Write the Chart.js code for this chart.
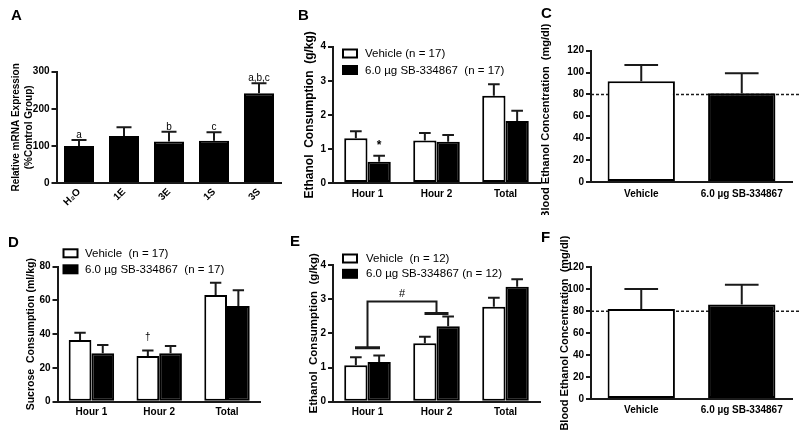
<!DOCTYPE html>
<html><head><meta charset="utf-8">
<script src="https://cdn.jsdelivr.net/npm/chart.js@4.4.0/dist/chart.umd.min.js"></script>
<style>
html,body{margin:0;padding:0;background:#fff;width:800px;height:436px;overflow:hidden;}
.p{position:absolute;left:0;top:0;width:800px;height:436px;overflow:hidden;}
canvas{display:block;}
</style></head><body>
<div class="p"><canvas id="cA" width="800" height="436"></canvas></div>
<div class="p"><canvas id="cB" width="800" height="436"></canvas></div>
<div class="p" style="height:215px"><canvas id="cC" width="800" height="436"></canvas></div>
<div class="p"><canvas id="cD" width="800" height="436"></canvas></div>
<div class="p"><canvas id="cE" width="800" height="436"></canvas></div>
<div class="p"><canvas id="cF" width="800" height="436"></canvas></div>
<script>
// ---------- DATA ----------
// Panel A
const mrnaCategories = ['H\u2082O', '1E', '3E', '1S', '3S'];
const mrnaMeans = [100, 127, 112, 114, 242];
const mrnaSem = [16, 23, 26, 23, 27];
const mrnaLetters = ['a', '', 'b', 'c', 'a,b,c'];
const mrnaTicks = [0, 100, 200, 300];

// Shared
const periodCategories = ['Hour 1', 'Hour 2', 'Total'];
const becCategories = ['Vehicle', '6.0 \u00b5g SB-334867'];
const ethanolTicks = [0, 1, 2, 3, 4];
const becTicks = [0, 20, 40, 60, 80, 100, 120];
const becThreshold = 80;

// Panel B
const ethB_vehicle = [1.31, 1.25, 2.56];
const ethB_vehicleSem = [0.21, 0.22, 0.34];
const ethB_sb = [0.62, 1.21, 1.82];
const ethB_sbSem = [0.18, 0.20, 0.30];
const ethB_sbMarks = ['*', '', ''];
const legendB = ['Vehicle (n = 17)', '6.0 \u00b5g SB-334867  (n = 17)'];

// Panel C
const becC = [92, 81];
const becCSem = [15, 18.3];

// Panel D
const sucVehicle = [36.6, 27.1, 63.2];
const sucVehicleSem = [4.3, 3.3, 7.3];
const sucVehicleMarks = ['', '\u2020', ''];
const sucSb = [28.7, 28.7, 56.7];
const sucSbSem = [4.9, 4.3, 9.3];
const sucTicks = [0, 20, 40, 60, 80];
const legendD = ['Vehicle  (n = 17)', '6.0 \u00b5g SB-334867  (n = 17)'];

// Panel E
const ethE_vehicle = [1.07, 1.71, 2.78];
const ethE_vehicleSem = [0.23, 0.19, 0.26];
const ethE_sb = [1.16, 2.21, 3.36];
const ethE_sbSem = [0.19, 0.28, 0.22];
const legendE = ['Vehicle  (n = 12)', '6.0 \u00b5g SB-334867 (n = 12)'];
// bracket: [left drop end, bar level, right drop end] in g/kg
const bracketE = [1.58, 2.93, 2.58];
const bracketELabel = '#';

// Panel F
const becF = [82, 86];
const becFSem = [18.2, 18];

// ---------- DRAWING ----------
const FAM = '"Liberation Sans", Arial, Helvetica, sans-serif';
const INK = '#1a1a1a';

const annot = {
  id: 'annot',
  beforeDatasetsDraw(chart, args, o) {
    const ctx = chart.ctx;
    if (o.refLine != null) {
      const y = chart.scales.y.getPixelForValue(o.refLine);
      ctx.save();
      ctx.setLineDash([3, 2]);
      ctx.lineWidth = 1.5;
      ctx.strokeStyle = INK;
      ctx.beginPath();
      ctx.moveTo(chart.chartArea.left, y);
      ctx.lineTo(chart.width, y);
      ctx.stroke();
      ctx.restore();
    }
  },
  afterDatasetsDraw(chart, args, o) {
    const ctx = chart.ctx, ys = chart.scales.y, xs = chart.scales.x;
    ctx.save();
    chart.data.datasets.forEach((ds, di) => {
      const meta = chart.getDatasetMeta(di);
      meta.data.forEach((bar, i) => {
        const v = ds.data[i];
        const e = ds.sem ? ds.sem[i] : 0;
        const x = bar.x;
        const yTop = ys.getPixelForValue(v);
        const yErr = ys.getPixelForValue(v + e);
        const half = bar.width / 4;
        ctx.strokeStyle = INK;
        ctx.lineWidth = 2;
        ctx.beginPath();
        ctx.moveTo(x, yTop);
        ctx.lineTo(x, yErr);
        ctx.moveTo(x - half, yErr);
        ctx.lineTo(x + half, yErr);
        ctx.stroke();
        if (ds.marks && ds.marks[i]) {
          ctx.fillStyle = '#000';
          ctx.font = o.markFont;
          ctx.textAlign = 'center';
          ctx.textBaseline = 'alphabetic';
          ctx.fillText(ds.marks[i], x, yErr - o.markOffset);
        }
      });
    });
    if (o.bracket) {
      const b = o.bracket;
      const x1 = xs.getPixelForValue(0), x2 = xs.getPixelForValue(1);
      const yL = ys.getPixelForValue(b[0]), yM = ys.getPixelForValue(b[1]), yR = ys.getPixelForValue(b[2]);
      ctx.strokeStyle = INK;
      ctx.lineWidth = 2;
      ctx.beginPath();
      ctx.moveTo(x1, yL); ctx.lineTo(x1, yM); ctx.lineTo(x2, yM); ctx.lineTo(x2, yR);
      ctx.stroke();
      ctx.lineWidth = 3;
      ctx.beginPath();
      ctx.moveTo(x1 - 12.5, yL); ctx.lineTo(x1 + 12.5, yL);
      ctx.moveTo(x2 - 12, yR); ctx.lineTo(x2 + 12, yR);
      ctx.stroke();
      ctx.fillStyle = '#000';
      ctx.font = '11px ' + FAM;
      ctx.textAlign = 'center';
      ctx.textBaseline = 'alphabetic';
      ctx.fillText(o.bracketLabel, (x1 + x2) / 2, yM - 4.5);
    }
    if (o.legend) {
      const L = o.legend;
      chart.data.datasets.forEach((ds, di) => {
        const cy = L.y + di * L.dy;
        ctx.fillStyle = ds.backgroundColor;
        ctx.fillRect(L.x, cy - 4, 14, 8);
        ctx.strokeStyle = '#000';
        ctx.lineWidth = 2;
        ctx.strokeRect(L.x, cy - 4, 14, 8);
        ctx.fillStyle = '#000';
        ctx.font = '11.5px ' + FAM;
        ctx.textAlign = 'left';
        ctx.textBaseline = 'middle';
        ctx.fillText(ds.label, L.tx, cy + 0.5);
      });
    }
    if (o.panel) {
      ctx.fillStyle = '#000';
      ctx.font = 'bold 15px ' + FAM;
      ctx.textAlign = 'left';
      ctx.textBaseline = 'alphabetic';
      ctx.fillText(o.panel[0], o.panel[1], o.panel[2]);
    }
    ctx.restore();
  }
};
Chart.register(annot);

function makeChart(id, c) {
  const g = c.geom; // L,R,T,B,yW,xH
  const ticks = c.yTicks;
  return new Chart(document.getElementById(id), {
    type: 'bar',
    data: { labels: c.labels, datasets: c.datasets },
    options: {
      responsive: false,
      animation: false,
      devicePixelRatio: 1,
      events: [],
      layout: { padding: { left: g.L - g.yW, right: 800 - g.R, top: g.T, bottom: 436 - g.B - g.xH } },
      plugins: {
        legend: { display: false },
        tooltip: { enabled: false },
        annot: c.annot
      },
      scales: {
        x: {
          type: 'category',
          offset: true,
          grid: { display: false, drawTicks: false },
          border: { display: true, color: INK, width: 2 },
          ticks: {
            color: '#000', autoSkip: false,
            font: { family: FAM, weight: 'bold', size: c.xFont || 10 },
            padding: c.xPad, minRotation: c.rot || 0, maxRotation: c.rot || 0
          },
          afterFit: s => { s.height = g.xH; }
        },
        y: {
          min: ticks[0], max: ticks[ticks.length - 1],
          grid: { display: true, drawOnChartArea: false, drawTicks: true, tickLength: 5, color: INK, lineWidth: 2 },
          border: { display: true, color: INK, width: 2 },
          ticks: { stepSize: ticks[1] - ticks[0], color: '#000', padding: 2,
                   font: { family: FAM, weight: 'bold', size: 10 } },
          title: { display: true, text: c.title, color: '#000', padding: 0,
                   font: { family: FAM, weight: 'bold', size: c.titleSize, lineHeight: c.titleLH || 1.2 } },
          afterFit: s => { s.width = g.yW; }
        }
      }
    }
  });
}

function ds(label, data, sem, fill, pct, marks) {
  return { label, data, sem, marks, backgroundColor: fill, borderColor: '#000', borderWidth: 2,
           borderSkipped: false, barPercentage: 1, categoryPercentage: pct };
}

// A
makeChart('cA', {
  labels: mrnaCategories,
  datasets: [ds('mRNA', mrnaMeans, mrnaSem, '#000', 0.667, mrnaLetters)],
  yTicks: mrnaTicks,
  title: ['Relative mRNA Expression', '(%Control Group)'], titleSize: 10, titleLH: 1.3,
  geom: { L: 56.5, R: 281.5, T: 71.7, B: 183, yW: 47.2, xH: 40 },
  xPad: 3, rot: 45,
  annot: { markFont: '10px ' + FAM, markOffset: 2, panel: ['A', 11, 20] }
});

// B
makeChart('cB', {
  labels: periodCategories,
  datasets: [ds(legendB[0], ethB_vehicle, ethB_vehicleSem, '#fff', 0.675),
             ds(legendB[1], ethB_sb, ethB_sbSem, '#000', 0.675, ethB_sbMarks)],
  yTicks: ethanolTicks,
  title: 'Ethanol  Consumption  (g/kg)', titleSize: 12,
  geom: { L: 333, R: 540, T: 46.7, B: 183, yW: 30.2, xH: 30 },
  xPad: 5,
  annot: { markFont: 'bold 12px ' + FAM, markOffset: 7,
           legend: { x: 343, y: 53.5, dy: 16.5, tx: 365 }, panel: ['B', 298, 19.5] }
});

// C
makeChart('cC', {
  labels: becCategories,
  datasets: [{ label: 'BEC', data: becC, sem: becCSem, backgroundColor: ['#fff', '#000'], borderColor: '#000',
               borderWidth: 2, borderSkipped: false, barPercentage: 1, categoryPercentage: 0.67 }],
  yTicks: becTicks,
  title: 'Blood Ethanol Concentration  (mg/dl)   ', titleSize: 11,
  geom: { L: 591, R: 792, T: 50.7, B: 182, yW: 51.6, xH: 30 },
  xPad: 6,
  annot: { refLine: becThreshold, panel: ['C', 541, 18] }
});

// D
makeChart('cD', {
  labels: periodCategories,
  datasets: [ds(legendD[0], sucVehicle, sucVehicleSem, '#fff', 0.67, sucVehicleMarks),
             ds(legendD[1], sucSb, sucSbSem, '#000', 0.67)],
  yTicks: sucTicks,
  title: 'Sucrose  Consumption (ml/kg)', titleSize: 10.5,
  geom: { L: 57.5, R: 260.9, T: 266.7, B: 401.7, yW: 33.1, xH: 30 },
  xPad: 5,
  annot: { markFont: '10px ' + FAM, markOffset: 10,
           legend: { x: 63.5, y: 253.3, dy: 16, tx: 85 }, panel: ['D', 8, 246.5] }
});

// E
makeChart('cE', {
  labels: periodCategories,
  datasets: [ds(legendE[0], ethE_vehicle, ethE_vehicleSem, '#fff', 0.675),
             ds(legendE[1], ethE_sb, ethE_sbSem, '#000', 0.675)],
  yTicks: ethanolTicks,
  title: 'Ethanol  Consumption  (g/kg)', titleSize: 11.5,
  geom: { L: 333, R: 540, T: 265, B: 401.7, yW: 25.9, xH: 30 },
  xPad: 5,
  annot: { bracket: bracketE, bracketLabel: bracketELabel,
           legend: { x: 343, y: 258.5, dy: 15.3, tx: 366 }, panel: ['E', 290, 245.5] }
});

// F
makeChart('cF', {
  labels: becCategories,
  datasets: [{ label: 'BEC', data: becF, sem: becFSem, backgroundColor: ['#fff', '#000'], borderColor: '#000',
               borderWidth: 2, borderSkipped: false, barPercentage: 1, categoryPercentage: 0.67 }],
  yTicks: becTicks,
  title: 'Blood Ethanol Concentration  (mg/dl)', titleSize: 11,
  geom: { L: 591, R: 792, T: 267.3, B: 399, yW: 32.6, xH: 30 },
  xPad: 5,
  annot: { refLine: becThreshold, panel: ['F', 541, 242] }
});
</script>
</body></html>
